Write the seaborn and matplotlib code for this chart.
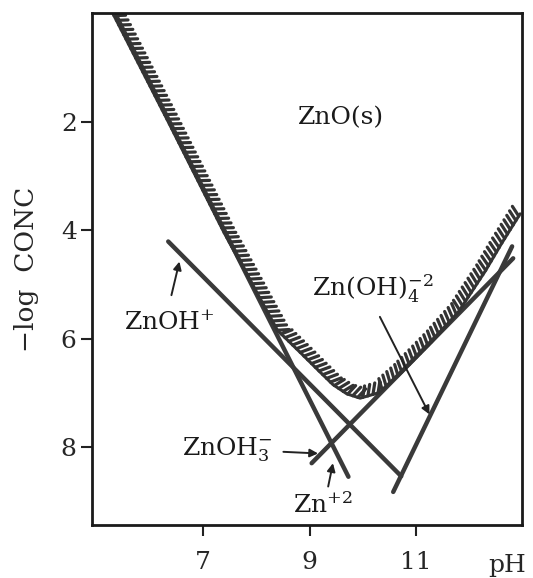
import matplotlib
matplotlib.use("Agg")
import matplotlib.pyplot as plt
import matplotlib.patheffects as pe
import seaborn as sns
import pandas as pd

# ---------------------- DATA (pH vs -log CONC) ----------------------
zn2_ph = [5.35, 9.73]
zn2_y = [0.0, 8.55]

znoh_ph = [6.35, 10.72]
znoh_y = [4.21, 8.54]

znoh3_ph = [9.04, 12.82]
znoh3_y = [8.30, 4.52]

znoh4_ph = [10.57, 12.80]
znoh4_y = [8.83, 4.30]

# total solubility (ZnO(s) boundary, hatched)
total_ph = [5.31, 6.35, 7.40, 8.40, 8.82, 9.20, 9.44, 9.70, 9.95, 10.30, 10.70, 11.30, 11.80, 12.30, 12.60, 12.95]
total_y = [0.00, 2.00, 4.05, 5.85, 6.25, 6.62, 6.85, 7.02, 7.10, 7.00, 6.65, 6.05, 5.50, 4.75, 4.25, 3.70]

x_ticks = [7, 9, 11]
y_ticks = [2, 4, 6, 8]

# ---------------------- PLOT CONFIGURATION ----------------------
sns.set_style("ticks")
plt.rcParams["font.family"] = ["DejaVu Serif"]
plt.rcParams["mathtext.fontset"] = "dejavuserif"

fig = plt.figure(figsize=(5.33, 5.78), dpi=100)
ax = fig.add_axes([0.1726, 0.0917, 0.8062, 0.8853])

line_col = "#3a3a3a"
for xs, ys in [(zn2_ph, zn2_y), (znoh_ph, znoh_y), (znoh3_ph, znoh3_y), (znoh4_ph, znoh4_y)]:
    df = pd.DataFrame({"pH": xs, "logc": ys})
    sns.lineplot(data=df, x="pH", y="logc", ax=ax, color=line_col, lw=3.2,
                 sort=False, solid_capstyle="round")

df_tot = pd.DataFrame({"pH": total_ph, "logc": total_y})
sns.lineplot(data=df_tot, x="pH", y="logc", ax=ax, color="#333333", lw=2.2, sort=False,
             path_effects=[pe.withTickedStroke(angle=65, spacing=3.8, length=2.2,
                                               linewidth=2.3)])

ax.set_xlim(4.92, 12.98)
ax.set_ylim(9.44, 0.0)
ax.set_xticks(x_ticks)
ax.set_yticks(y_ticks)
ax.set_xticklabels([str(t) for t in x_ticks])
ax.set_yticklabels([str(t) for t in y_ticks])
ax.tick_params(axis="both", direction="out", length=8, width=1.5, labelsize=18, color="#222222")
ax.tick_params(axis="x", pad=11)
ax.tick_params(axis="y", pad=3)
for s in ax.spines.values():
    s.set_linewidth(2.0)
    s.set_color("#1a1a1a")

ax.set_ylabel("\u2212log  CONC", fontsize=19, labelpad=16)
ax.set_xlabel("pH", fontsize=18, va="top")
ax.xaxis.set_label_coords(0.965, -0.056)

# ---------------------- LABELS & ARROWS ----------------------
txt = dict(fontsize=18, color="#1a1a1a", va="baseline")
ax.text(9.59, 2.05, "ZnO(s)", ha="center", **txt)
ax.text(6.38, 5.84, r"ZnOH$^{+}$", ha="center", **txt)
ax.text(9.04, 5.23, r"Zn(OH)$_{4}^{-2}$", ha="left", **txt)
ax.text(6.60, 8.15, r"ZnOH$_{3}^{-}$", ha="left", **txt)
ax.text(8.69, 9.22, r"Zn$^{+2}$", ha="left", **txt)

arrow = dict(arrowstyle="-|>", color="#222222", lw=1.4, mutation_scale=12, shrinkA=0, shrinkB=0)
ax.annotate("", xy=(6.56, 4.58), xytext=(6.41, 5.20), arrowprops=arrow)
ax.annotate("", xy=(11.25, 7.40), xytext=(10.32, 5.60), arrowprops=arrow)
ax.annotate("", xy=(9.16, 8.12), xytext=(8.51, 8.09), arrowprops=arrow)
ax.annotate("", xy=(9.44, 8.30), xytext=(9.35, 8.73), arrowprops=arrow)

fig.savefig("out.png", dpi=100)
